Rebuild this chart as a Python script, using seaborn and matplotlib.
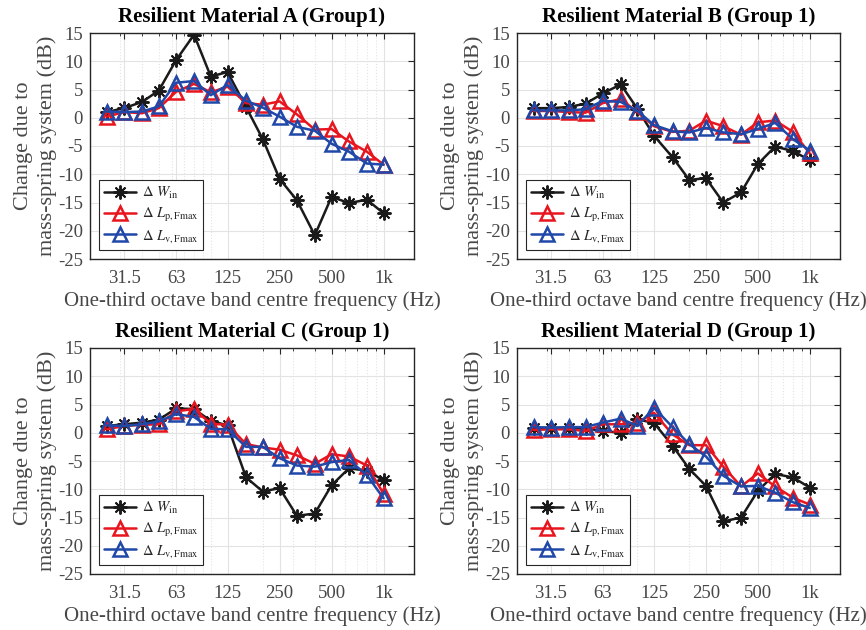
import matplotlib
matplotlib.use("Agg")
import matplotlib.pyplot as plt
import matplotlib.ticker as mticker
import seaborn as sns
import numpy as np
import pandas as pd

# one-third octave band centre frequencies (Hz)
freqs = [25, 31.5, 40, 50, 63, 80, 100, 125, 160, 200, 250, 315, 400, 500, 630, 800, 1000]
tick_vals = [31.5, 63, 125, 250, 500, 1000]
tick_labels = ["31.5", "63", "125", "250", "500", "1k"]

titles = ["Resilient Material A (Group1)", "Resilient Material B (Group 1)",
          "Resilient Material C (Group 1)", "Resilient Material D (Group 1)"]

# Delta W_in
w_a = [1.0, 1.7, 2.8, 4.8, 10.2, 14.7, 7.3, 8.1, 1.9, -3.8, -10.8, -14.6, -20.8, -14.0, -15.1, -14.5, -16.9]
w_b = [1.7, 1.7, 1.9, 2.5, 4.3, 5.9, 1.6, -3.2, -7.0, -11.0, -10.7, -15.0, -13.2, -8.2, -5.1, -5.9, -7.5]
w_c = [1.2, 1.5, 1.8, 2.3, 4.3, 4.2, 2.1, 1.3, -7.9, -10.4, -9.8, -14.7, -14.3, -9.3, -6.3, -6.7, -8.4]
w_d = [0.8, 0.9, 0.8, 0.8, 0.3, 0.0, 2.4, 1.7, -2.3, -6.4, -9.4, -15.7, -15.0, -10.3, -7.3, -7.9, -9.7]

# Delta L_p,Fmax
lp_a = [0.2, 1.0, 0.8, 1.7, 4.6, 6.0, 4.5, 5.5, 2.6, 2.3, 2.9, 0.6, -2.1, -2.0, -4.2, -6.0, -8.3]
lp_b = [1.2, 1.2, 1.0, 0.9, 2.6, 3.3, 1.0, -1.5, -2.5, -2.3, -0.5, -1.5, -3.0, -0.8, -0.5, -2.5, -6.3]
lp_c = [0.6, 1.2, 1.4, 1.5, 3.8, 4.2, 1.6, 1.4, -2.0, -2.6, -3.0, -4.0, -5.5, -3.8, -4.2, -5.8, -10.8]
lp_d = [0.5, 0.6, 0.6, 0.3, 1.5, 1.5, 1.8, 3.5, -0.3, -2.2, -2.2, -6.0, -9.5, -7.2, -9.5, -11.5, -12.7]

# Delta L_v,Fmax
lv_a = [1.1, 1.0, 1.1, 2.0, 6.2, 6.5, 4.0, 5.8, 3.0, 1.8, 0.2, -1.6, -2.3, -4.6, -6.0, -8.1, -8.3]
lv_b = [1.3, 1.3, 1.3, 1.5, 3.0, 2.8, 1.2, -1.3, -2.4, -2.6, -1.8, -2.6, -2.9, -2.0, -0.9, -3.8, -5.8]
lv_c = [1.3, 1.2, 1.5, 2.0, 3.3, 2.8, 0.7, 0.6, -2.5, -2.5, -4.5, -5.8, -6.0, -5.2, -4.8, -7.5, -11.6]
lv_d = [1.0, 0.9, 1.0, 1.0, 1.8, 2.5, 1.2, 4.4, 1.0, -2.0, -4.2, -7.6, -9.5, -9.4, -10.6, -12.3, -13.3]

series_w = [w_a, w_b, w_c, w_d]
series_lp = [lp_a, lp_b, lp_c, lp_d]
series_lv = [lv_a, lv_b, lv_c, lv_d]

labels = [r"$\Delta\ W_{\mathrm{in}}$", r"$\Delta\ L_{\mathrm{p,Fmax}}$", r"$\Delta\ L_{\mathrm{v,Fmax}}$"]

sns.set_theme(style="white")
plt.rcParams["font.family"] = ["Liberation Serif", "DejaVu Serif"]
plt.rcParams["mathtext.fontset"] = "stix"
plt.rcParams["axes.unicode_minus"] = False

TXT = "#474747"
AX = "#262626"
BLACK = "#1a1a1a"
RED = "#e8151f"
BLUE = "#2048a8"
GRID = "#e3e3e3"

fig = plt.figure(figsize=(8.66, 6.30), dpi=100)
positions = [
    (90 / 866, 1 - 259 / 630, 324 / 866, 226 / 630),
    (517 / 866, 1 - 259 / 630, 323 / 866, 226 / 630),
    (90 / 866, 1 - 574 / 630, 324 / 866, 226 / 630),
    (517 / 866, 1 - 574 / 630, 323 / 866, 226 / 630),
]

for i in range(4):
    ax = fig.add_axes(positions[i])
    ax.set_xscale("log")
    sns.lineplot(x=freqs, y=series_w[i], ax=ax, color=BLACK, linewidth=1.8,
                 marker=(8, 2, 0), markersize=10, markeredgewidth=1.4,
                 markeredgecolor=BLACK, label=labels[0], sort=False)
    sns.lineplot(x=freqs, y=series_lp[i], ax=ax, color=RED, linewidth=1.8,
                 marker="^", markersize=10, markerfacecolor="none",
                 markeredgewidth=1.8, markeredgecolor=RED, label=labels[1], sort=False)
    sns.lineplot(x=freqs, y=series_lv[i], ax=ax, color=BLUE, linewidth=1.8,
                 marker="^", markersize=10, markerfacecolor="none",
                 markeredgewidth=1.8, markeredgecolor=BLUE, label=labels[2], sort=False)

    ax.set_xlim(20, 1500)
    ax.set_ylim(-25, 15)
    ax.set_yticks(np.arange(-25, 16, 5))
    ax.xaxis.set_major_locator(mticker.FixedLocator(tick_vals))
    ax.xaxis.set_major_formatter(mticker.FixedFormatter(tick_labels))
    ax.xaxis.set_minor_locator(mticker.LogLocator(base=10, subs=np.arange(1, 10), numticks=20))
    ax.xaxis.set_minor_formatter(mticker.NullFormatter())

    ax.grid(True, which="major", color=GRID, linewidth=0.8, linestyle="-")
    ax.grid(True, which="minor", axis="x", color=GRID, linewidth=0.8, linestyle=":")
    ax.set_axisbelow(True)

    ax.tick_params(axis="both", which="both", direction="in", top=True, right=True,
                   color=AX, labelcolor=TXT, labelsize=13.5)
    ax.tick_params(axis="x", which="major", pad=8)
    ax.tick_params(axis="y", which="major", pad=5)
    ax.tick_params(which="major", length=4, width=0.8)
    ax.tick_params(which="minor", length=2.5, width=0.6)
    for sp in ax.spines.values():
        sp.set_color(AX)
        sp.set_linewidth(1.0)

    ax.set_title(titles[i], fontsize=15, fontweight="bold", color="black", pad=8)
    ax.set_xlabel("One-third octave band centre frequency (Hz)", fontsize=15, color=TXT, labelpad=3)
    ax.set_ylabel("Change due to\nmass-spring system (dB)", fontsize=16, color=TXT,
                  labelpad=1, linespacing=1.25)

    leg = ax.legend(loc="lower left", fontsize=10.5, frameon=True, fancybox=False,
                    edgecolor=AX, framealpha=1, handlelength=2.2, borderpad=0.35,
                    labelspacing=0.3, handletextpad=0.4, borderaxespad=0.6)
    leg.get_frame().set_linewidth(0.8)

fig.savefig("out.png", dpi=100)
